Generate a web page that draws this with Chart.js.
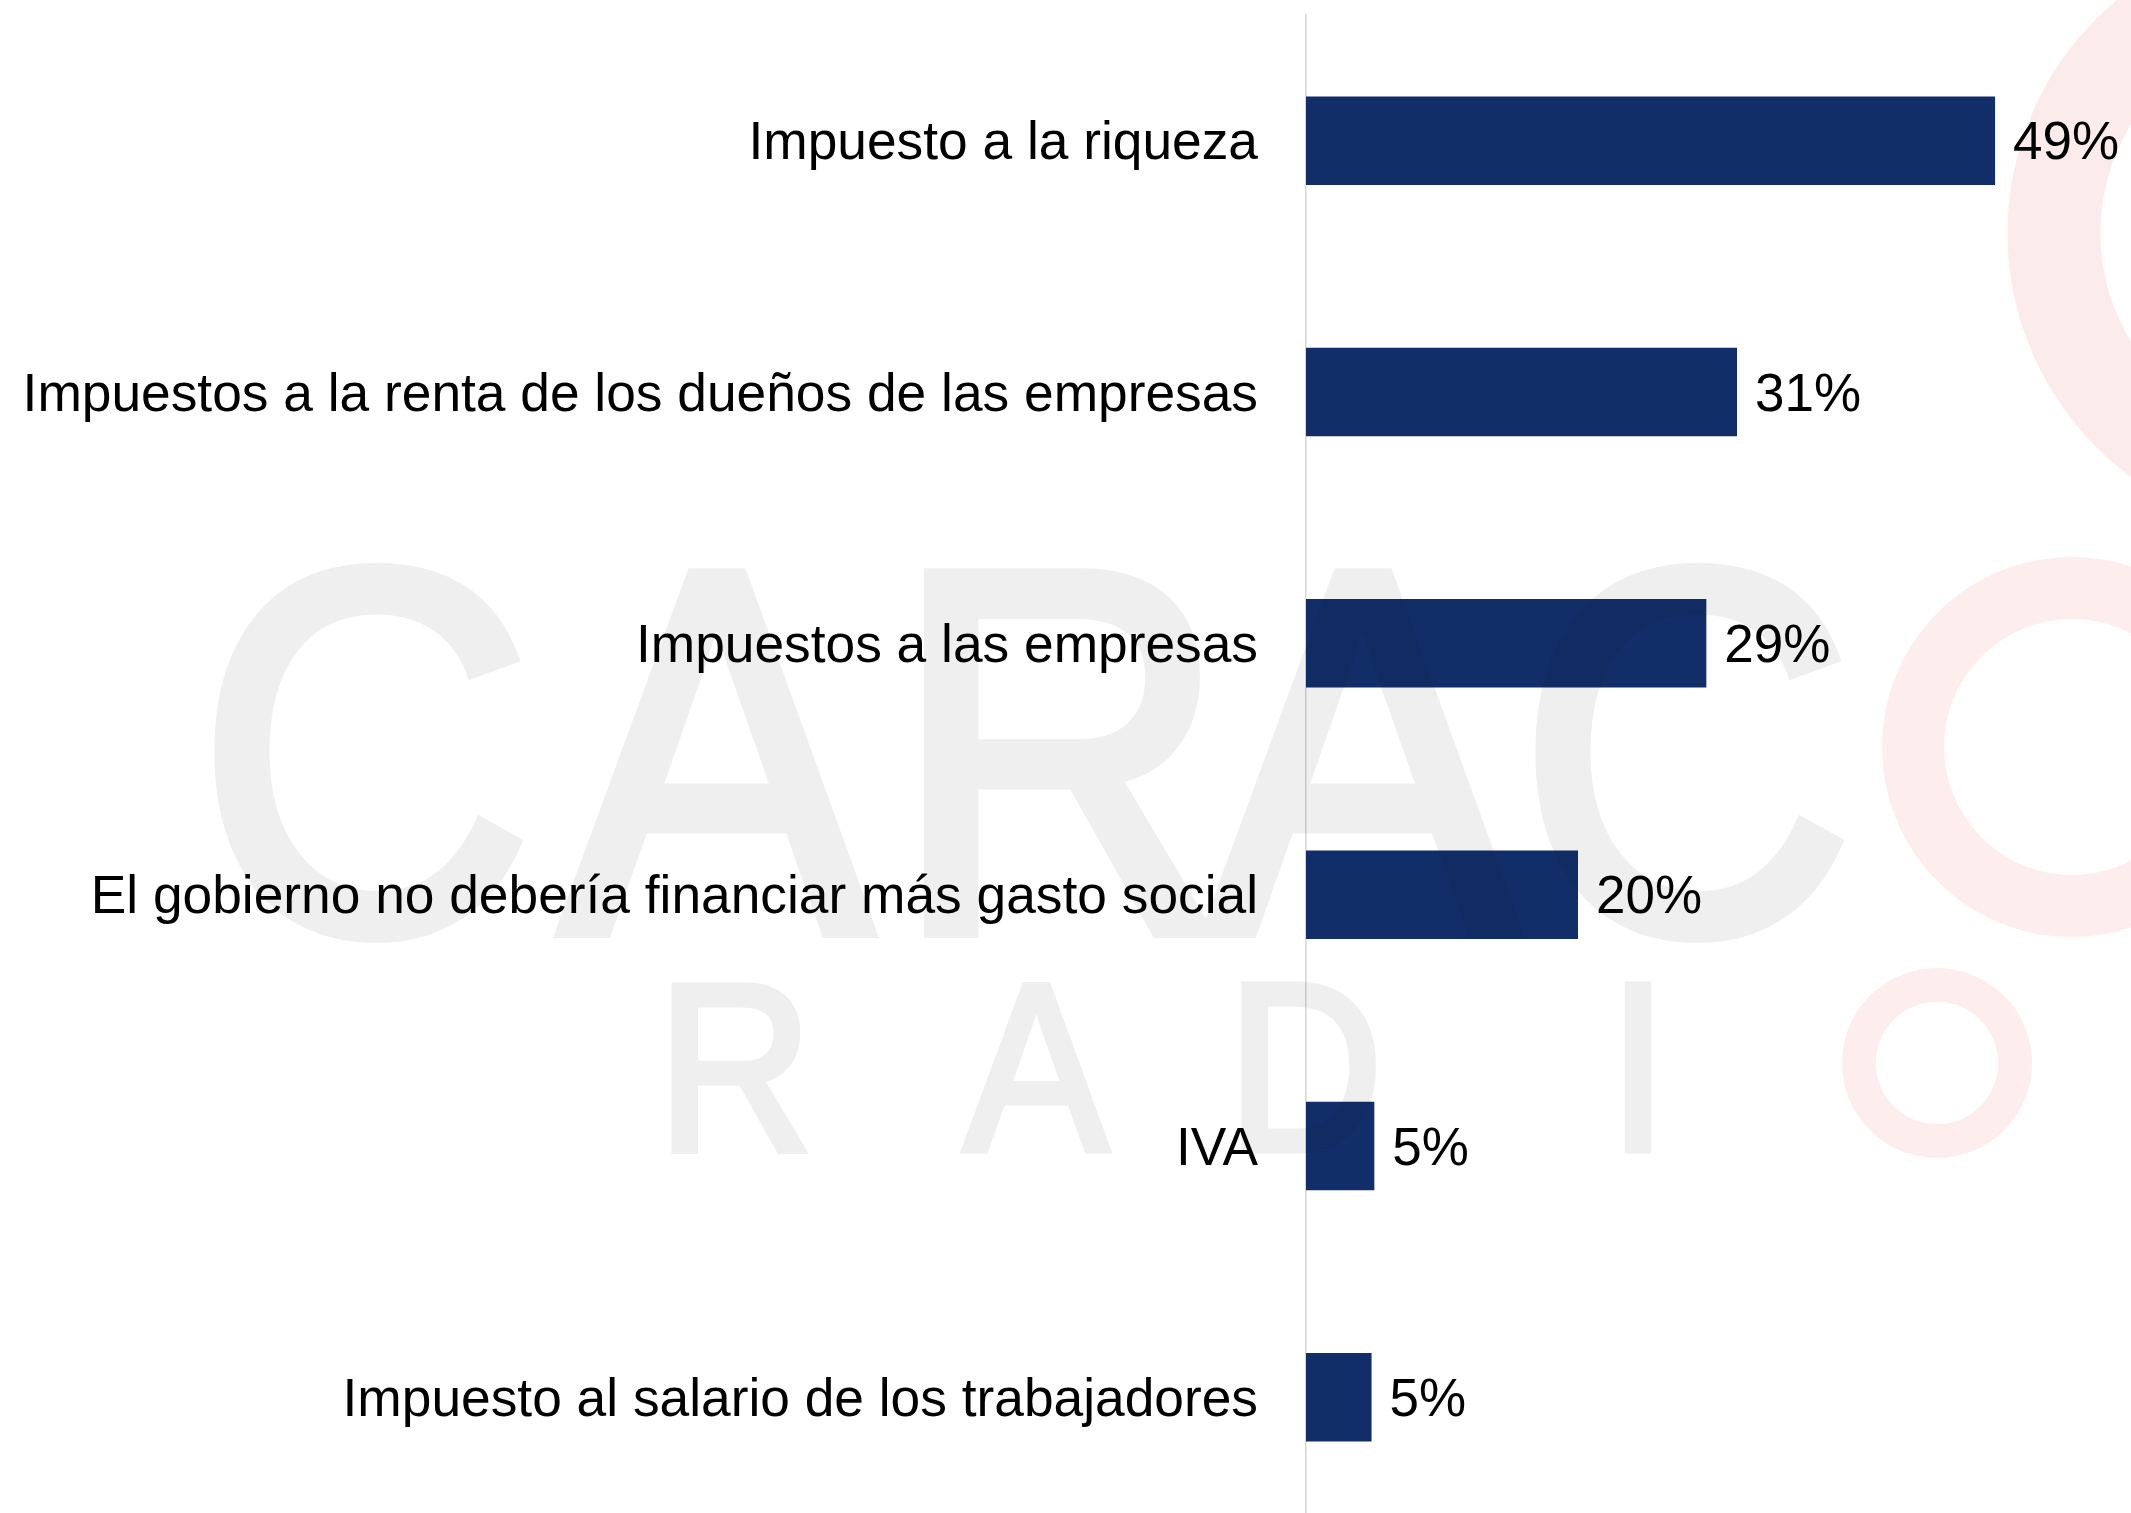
<!DOCTYPE html>
<html>
<head>
<meta charset="utf-8">
<script src="https://cdn.jsdelivr.net/npm/chart.js@4/dist/chart.umd.min.js"></script>
<style>
  html, body { margin: 0; padding: 0; background: #fff; overflow: hidden; }
  #wrap { width: 2131px; height: 1513px; overflow: hidden; }
</style>
</head>
<body>
<div id="wrap"><canvas id="chart" width="2131" height="1524"></canvas></div>
<script>
// categorias y porcentajes
var categorias = [
    'Impuesto a la riqueza',
    'Impuestos a la renta de los dueños de las empresas',
    'Impuestos a las empresas',
    'El gobierno no debería financiar más gasto social',
    'IVA',
    'Impuesto al salario de los trabajadores'
];
var valores = [49.4, 30.9, 28.7, 19.5, 4.9, 4.7];
var etiquetas = ['49%', '31%', '29%', '20%', '5%', '5%'];

var FUENTE = "'Liberation Sans', Arial, sans-serif";

// marca de agua de fondo (logo), se dibuja aparte y se multiplica encima
var marcaAgua = {
    id: 'marcaAgua',
    afterDatasetsDraw: function (chart) {
        var off = document.createElement('canvas');
        off.width = chart.width;
        off.height = chart.height;
        var c = off.getContext('2d');
        c.fillStyle = '#fff';
        c.fillRect(0, 0, off.width, off.height);
        c.textAlign = 'center';
        c.textBaseline = 'alphabetic';
        c.lineJoin = 'miter';

        function letra(t, x, y, size, grosor) {
            c.save();
            c.translate(x, y);
            c.scale(0.9, 1);
            c.font = size + 'px ' + FUENTE;
            c.fillStyle = '#efefef';
            c.strokeStyle = '#efefef';
            c.lineWidth = grosor;
            c.strokeText(t, 0, 0);
            c.fillText(t, 0, 0);
            c.restore();
        }
        function anillo(x, y, r, w, color) {
            c.beginPath();
            c.arc(x, y, r, 0, Math.PI * 2);
            c.lineWidth = w;
            c.strokeStyle = color;
            c.stroke();
        }

        letra('C', 365, 932, 520, 12);
        letra('A', 716, 932, 520, 12);
        letra('R', 1060, 932, 520, 12);
        letra('A', 1362, 932, 520, 12);
        letra('C', 1686, 932, 520, 12);
        anillo(2072, 747, 159, 62, '#fdeded');
        anillo(2310, 233, 256, 93, '#fcebeb');

        letra('R', 735, 1150, 240, 7);
        letra('A', 1036, 1150, 240, 7);
        letra('D', 1305, 1150, 240, 7);
        letra('I', 1638, 1150, 240, 7);
        anillo(1937, 1063, 78, 34, '#fdeded');

        var ctx = chart.ctx;
        ctx.save();
        ctx.globalCompositeOperation = 'multiply';
        ctx.drawImage(off, 0, 0);
        ctx.restore();
    }
};

// porcentaje al final de cada barra
var etiquetasBarras = {
    id: 'etiquetasBarras',
    afterDatasetsDraw: function (chart) {
        var ctx = chart.ctx;
        var meta = chart.getDatasetMeta(0);
        ctx.save();
        ctx.font = '53px ' + FUENTE;
        ctx.fillStyle = '#000';
        ctx.textAlign = 'left';
        ctx.textBaseline = 'middle';
        meta.data.forEach(function (bar, i) {
            ctx.fillText(etiquetas[i], bar.x + 18, bar.y + 4);
        });
        ctx.restore();
    }
};

var ctx = document.getElementById('chart').getContext('2d');
var chart = new Chart(ctx, {
    type: 'bar',
    data: {
        labels: categorias,
        datasets: [{
            data: valores,
            backgroundColor: '#122e69',
            borderWidth: 0,
            barPercentage: 0.352,
            categoryPercentage: 1
        }]
    },
    options: {
        indexAxis: 'y',
        responsive: false,
        animation: false,
        layout: { padding: { left: 0, top: 15, right: 2, bottom: 1 } },
        plugins: {
            legend: { display: false },
            tooltip: { enabled: false }
        },
        scales: {
            x: {
                type: 'linear',
                min: 0,
                max: 59,
                display: false
            },
            y: {
                afterFit: function (scale) {
                    scale.width = 1306;
                    scale.paddingTop = 0;
                    scale.paddingBottom = 0;
                },
                grid: { display: false, drawTicks: false },
                border: { display: true, color: '#d6d6d6', width: 1.5 },
                ticks: {
                    autoSkip: false,
                    padding: 48,
                    labelOffset: 4,
                    color: '#000',
                    font: { family: FUENTE, size: 53.3 }
                }
            }
        }
    },
    plugins: [marcaAgua, etiquetasBarras]
});
</script>
</body>
</html>
